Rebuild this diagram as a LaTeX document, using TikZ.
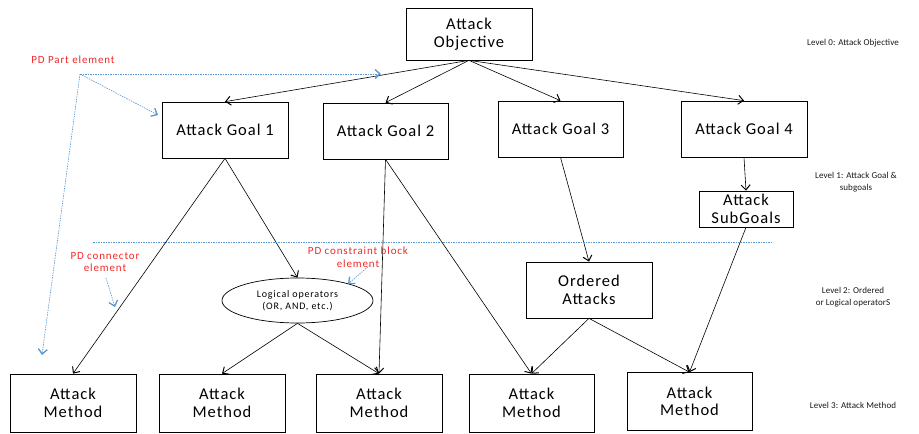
\documentclass[tikz,border=0pt]{standalone}
\usepackage{fontspec}
\setmainfont{Carlito}
\newfontfamily\boxfont{Carlito}[LetterSpace=6]
\newfontfamily\redfont{Carlito}[LetterSpace=8]
\newfontfamily\ellfont{Carlito}[LetterSpace=8]
\newfontfamily\levfont{Carlito}[LetterSpace=1]
\usetikzlibrary{arrows.meta,shapes.geometric}
\definecolor{pdred}{RGB}{240,40,40}
\definecolor{pdblue}{RGB}{90,150,210}
\begin{document}
\begin{tikzpicture}[x=1pt,y=-1pt,
  box/.style={draw,line width=0.7pt,inner sep=0pt,align=center,font=\boxfont\fontsize{16.5}{17.5}\selectfont},
  arr/.style={-{Straight Barb[length=5pt,width=9pt,line width=1pt]},line width=0.6pt},
  barr/.style={pdblue,dashed,dash pattern=on 1.5pt off 1pt,line width=0.6pt,-{Straight Barb[length=5pt,width=9pt,line width=1.3pt]}},
  redlab/.style={pdred,font=\redfont\fontsize{11}{12.5}\selectfont,align=center},
  levlab/.style={font=\levfont\fontsize{9}{11.5}\selectfont,align=center,text=black!90}]
\useasboundingbox (0,0) rectangle (919,434);
% Level 0
\node[box,minimum width=126pt,minimum height=52pt] (obj) at (469,34) {Attack\\Objective};
% Level 1
\node[box,minimum width=126pt,minimum height=56pt] (g1) at (225,130) {Attack Goal 1};
\node[box,minimum width=125pt,minimum height=56pt] (g2) at (385.5,131) {Attack Goal 2};
\node[box,minimum width=125pt,minimum height=56pt] (g3) at (560.5,129) {Attack Goal 3};
\node[box,minimum width=126pt,minimum height=56pt] (g4) at (744,129) {Attack Goal 4};
\node[box,minimum width=94pt,minimum height=36pt] (sg) at (746,209) {Attack\\SubGoals};
% Level 2
\node[box,minimum width=126pt,minimum height=56pt] (ord) at (589,290) {Ordered\\Attacks};
\node[draw,ellipse,line width=0.7pt,minimum width=151pt,minimum height=45pt,inner sep=0pt,align=center,font=\ellfont\fontsize{10}{11.5}\selectfont] (lo) at (297.5,300.5) {Logical operators\\(OR, AND, etc.)};
% Level 3
\node[box,minimum width=126pt,minimum height=58pt] (m1) at (73,403) {Attack\\Method};
\node[box,minimum width=126pt,minimum height=58pt] (m2) at (222,403) {Attack\\Method};
\node[box,minimum width=126pt,minimum height=58pt] (m3) at (379,403) {Attack\\Method};
\node[box,minimum width=125pt,minimum height=58pt] (m4) at (531.5,403) {Attack\\Method};
\node[box,minimum width=125pt,minimum height=58pt] (m5) at (689.5,401.5) {Attack\\Method};
% connectors
\draw[arr] (obj.south) -- (g1.north);
\draw[arr] (obj.south) -- (g2.north);
\draw[arr] (obj.south) -- (g3.north);
\draw[arr] (obj.south) -- (g4.north);
\draw[arr] (g1.south) -- (m1.north);
\draw[arr] (g1.south) -- (lo.north);
\draw[arr] (g2.south) -- (m3.north);
\draw[arr] (g2.south) -- (m4.north);
\draw[arr] (g3.south) -- (ord.north);
\draw[arr] (g4.south) -- (sg.north);
\draw[arr] (sg.south) -- (m5.north);
\draw[arr] (ord.south) -- (m4.north);
\draw[arr] (ord.south) -- (m5.north);
\draw[arr] (lo.south) -- (m2.north);
\draw[arr] (lo.south) -- (m3.north);
% level separator
\coordinate (sepL) at (93,242);
\coordinate (sepR) at (773,242);
\draw[pdblue,dash pattern=on 1.5pt off 1pt,line width=0.5pt] (sepL) -- (sepR);
% red labels
\node[redlab] (pdpart) at (73,60) {PD Part element};
\node[redlab] (pdconn) at (105,262) {PD connector\\element};
\node[redlab] (pdcons) at (358,257) {PD constraint block\\element};
% blue annotation arrows
\coordinate (pp) at (80,74);
\coordinate (ppA) at (381,74);
\coordinate (ppB) at (158,115);
\coordinate (ppC) at (42,355);
\draw[barr] (pp) -- (ppA);
\draw[barr] (pp) -- (ppB);
\draw[barr] (pp) -- (ppC);
\coordinate (pc1) at (106,278);
\coordinate (pc2) at (115,307);
\draw[barr] (pc1) -- (pc2);
\coordinate (pk1) at (370,265);
\coordinate (pk2) at (348,284);
\draw[barr] (pk1) -- (pk2);
% level labels
\node[levlab] (l0) at (853,43) {Level 0: Attack Objective};
\node[levlab] (l1) at (856,182) {Level 1: Attack Goal \&\\subgoals};
\node[levlab] (l2) at (853,297) {Level 2: Ordered\\or Logical operatorS};
\node[levlab] (l3) at (853,405) {Level 3: Attack Method};
\end{tikzpicture}
\end{document}
